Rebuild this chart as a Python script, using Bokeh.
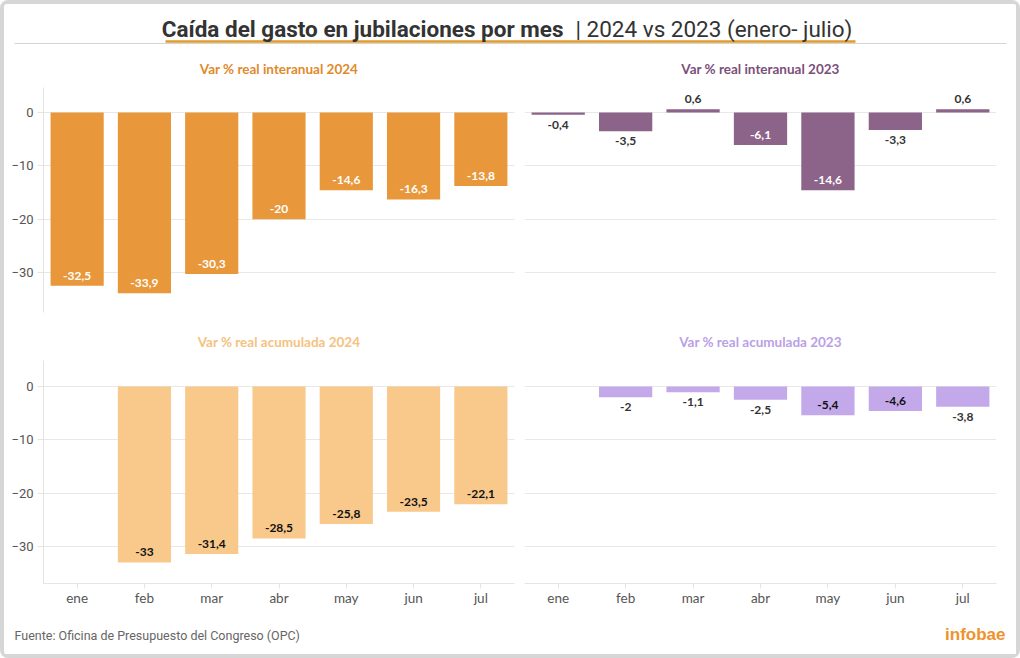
from bokeh.plotting import figure
from bokeh.models import ColumnDataSource, FactorRange, Range1d, FixedTicker, Label
from bokeh.layouts import column, row
from bokeh.embed import file_html
from bokeh.resources import INLINE
from bokeh.core.properties import value

# ---------------- data ----------------
months = ["ene", "feb", "mar", "abr", "may", "jun", "jul"]
interanual_2024 = [-32.5, -33.9, -30.3, -20.0, -14.6, -16.3, -13.8]
interanual_2023 = [-0.4, -3.5, 0.6, -6.1, -14.6, -3.3, 0.6]
acumulada_2024 = [None, -33.0, -31.4, -28.5, -25.8, -23.5, -22.1]
acumulada_2023 = [None, -2.0, -1.1, -2.5, -5.4, -4.6, -3.8]
y_ticks = [-30, -20, -10, 0]

title_main = "Caída del gasto en jubilaciones por mes"
title_sub = "| 2024 vs 2023 (enero- julio)"
source_text = "Fuente: Oficina de Presupuesto del Congreso (OPC)"
brand = "infobae"

W = 1012
H_TITLE, H_ROW1, H_ROW2, H_FOOT = 43, 273, 298, 36
W_LEFT, W_RIGHT = 512, 500


def fmt(v):
    if v == int(v):
        return str(int(v))
    return f"{v:.1f}".replace(".", ",")


def panel(title, tcolor, vals, bcolor, in_color, width, height,
          bl, br, bt, bb, y0, y1, show_y, show_x, standoff):
    p = figure(x_range=FactorRange(*months), y_range=Range1d(y0, y1),
               width=width, height=height, output_backend="svg",
               toolbar_location=None, min_border_left=bl, min_border_right=br,
               min_border_top=bt, min_border_bottom=bb)
    p.title.text = title
    p.title.align = "center"
    p.title.text_color = tcolor
    p.title.text_font = "Lato"
    p.title.text_font_size = "13.5px"
    p.title.text_font_style = "bold"
    p.title.standoff = standoff
    p.outline_line_color = None
    p.background_fill_color = "white"
    p.border_fill_color = "white"

    xs, ys, labels, yoff, cols = [], [], [], [], []
    for m, v in zip(months, vals):
        if v is None:
            continue
        xs.append(m)
        ys.append(v)
        labels.append(fmt(v))
        if v < -4:
            yoff.append(-10)
            cols.append(in_color)
        elif v < 0:
            yoff.append(10)
            cols.append("#333333")
        else:
            yoff.append(-10)
            cols.append("#333333")
    src = ColumnDataSource(dict(x=xs, y=ys, label=labels, yoff=yoff, col=cols))
    p.vbar(x="x", top="y", bottom=0, width=0.79, source=src,
           fill_color=bcolor, line_color=None)
    p.text(x="x", y="y", text="label", y_offset="yoff", source=src,
           text_color="col", text_align="center", text_baseline="middle",
           text_font=value("Lato"), text_font_size="12px", text_font_style="bold")

    p.ygrid.ticker = FixedTicker(ticks=y_ticks)
    p.ygrid.grid_line_color = "#e8e8e8"
    p.xgrid.grid_line_color = None
    p.yaxis.ticker = FixedTicker(ticks=y_ticks)
    p.yaxis.axis_line_color = "#e4e4e4"
    p.yaxis.major_tick_line_color = "#e4e4e4"
    p.yaxis.minor_tick_line_color = None
    p.yaxis.major_tick_out = 6
    p.yaxis.major_tick_in = 0
    p.yaxis.major_label_standoff = 4
    p.yaxis.major_label_text_font = "Roboto"
    p.yaxis.major_label_text_font_size = "13px"
    p.yaxis.major_label_text_color = "#555555"
    p.yaxis.visible = show_y

    p.xaxis.axis_line_color = "#e4e4e4"
    p.xaxis.major_tick_line_color = "#e4e4e4"
    p.xaxis.major_tick_out = 5
    p.xaxis.major_tick_in = 0
    p.xaxis.major_label_standoff = 1
    p.xaxis.major_label_text_font = "Lato"
    p.xaxis.major_label_text_font_size = "13.5px"
    p.xaxis.major_label_text_color = "#555555"
    p.xaxis.visible = show_x
    return p


p1 = panel("Var % real interanual 2024", "#E08A2C", interanual_2024, "#E8973A",
           "white", W_LEFT, H_ROW1, 39, 2, 40, 8, -37.5, 4.69, True, False, 22)
p2 = panel("Var % real interanual 2023", "#7B4F7B", interanual_2023, "#8C6389",
           "white", W_RIGHT, H_ROW1, 8, 20, 40, 8, -37.5, 4.69, False, False, 22)
p3 = panel("Var % real acumulada 2024", "#F5C27F", acumulada_2024, "#F8C98A",
           "#111111", W_LEFT, H_ROW2, 39, 2, 40, 35, -36.94, 4.875, True, True, 22)
p4 = panel("Var % real acumulada 2023", "#BBA0E6", acumulada_2023, "#C4A9EA",
           "#111111", W_RIGHT, H_ROW2, 8, 20, 40, 35, -36.94, 4.875, False, True, 22)

# ---------------- title strip ----------------
tf = figure(width=W, height=H_TITLE, x_range=Range1d(0, W), y_range=Range1d(H_TITLE, 0),
            output_backend="svg", toolbar_location=None, min_border=0,
            x_axis_type=None, y_axis_type=None)
tf.grid.visible = False
tf.outline_line_color = None
tf.segment(x0=[10], y0=[39], x1=[1002], y1=[39], line_color="#d4d4d4", line_width=1)
tf.segment(x0=[161], y0=[37], x1=[851], y1=[37], line_color="#E39A2B", line_width=2.5)
tf.add_layout(Label(x=559, y=24, text=title_main, text_align="right", text_baseline="middle",
                    text_font="Roboto", text_font_style="bold", text_font_size="22.5px",
                    text_color="#333333"))
tf.add_layout(Label(x=571, y=24, text=title_sub, text_align="left", text_baseline="middle",
                    text_font="Roboto", text_font_size="22.5px", text_color="#333333"))

# ---------------- footer strip ----------------
ff = figure(width=W, height=H_FOOT, x_range=Range1d(0, W), y_range=Range1d(H_FOOT, 0),
            output_backend="svg", toolbar_location=None, min_border=0,
            x_axis_type=None, y_axis_type=None)
ff.grid.visible = False
ff.outline_line_color = None
ff.add_layout(Label(x=10, y=17, text=source_text, text_align="left", text_baseline="middle",
                    text_font="Roboto", text_font_size="12.5px", text_color="#666666"))
ff.add_layout(Label(x=1001, y=16, text=brand, text_align="right", text_baseline="middle",
                    text_font="Liberation Sans", text_font_style="bold",
                    text_font_size="17px", text_color="#F0922B"))

layout = column(tf, row(p1, p2), row(p3, p4), ff,
                styles={"border": "4px solid #d6d6d6", "border-radius": "8px",
                        "background-color": "white"})

open("out.html", "w").write(file_html(layout, INLINE))
